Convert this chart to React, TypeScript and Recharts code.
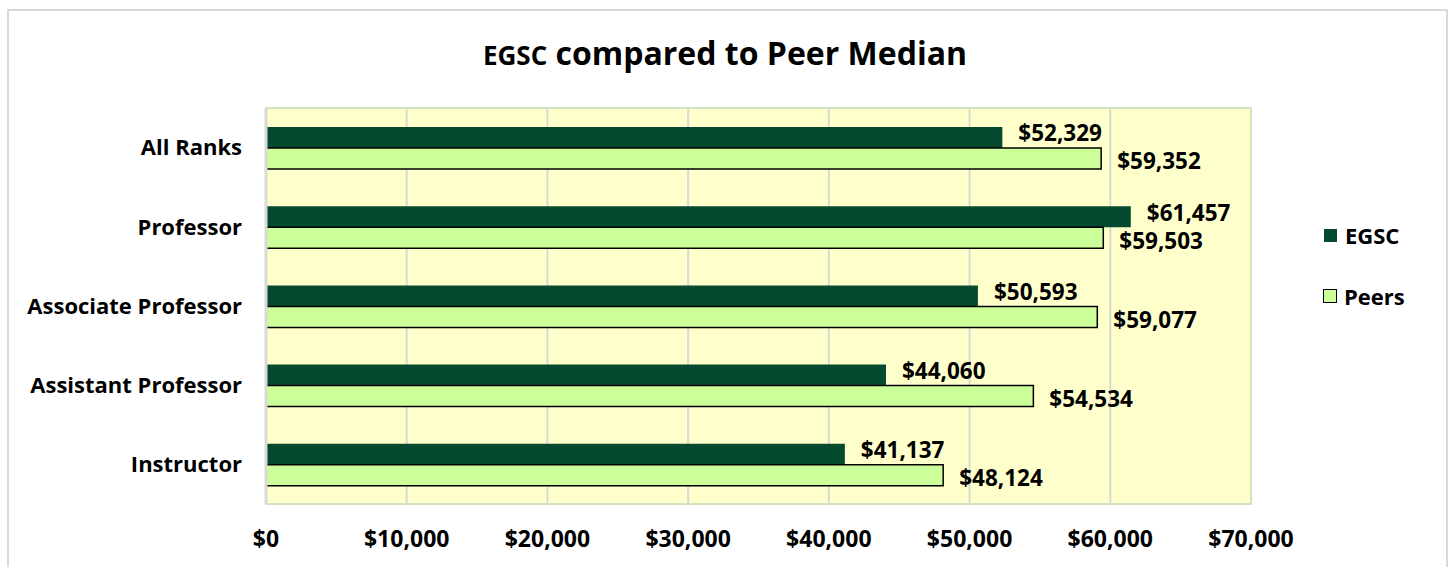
import React from "react";
import { BarChart, Bar, XAxis, YAxis, CartesianGrid, LabelList, ReferenceArea } from "recharts";

const ranks = ["All Ranks", "Professor", "Associate Professor", "Assistant Professor", "Instructor"];
const egsc = [52329, 61457, 50593, 44060, 41137];
const peers = [59352, 59503, 59077, 54534, 48124];
const xTicks = [0, 10000, 20000, 30000, 40000, 50000, 60000, 70000];

const data = ranks.map((name, i) => ({ name, egsc: egsc[i], peers: peers[i] }));

const FONT = "'Open Sans', Lato, sans-serif";
const money = (v: number) => "$" + v.toLocaleString("en-US");

export default function App() {
    return (
        <div style={{ position: "absolute", left: 0, top: 0, width: 1450, height: 567, background: "#fff", overflow: "hidden" }}>
            <div style={{ position: "absolute", left: 7, top: 9, width: 1437, height: 600, border: "2px solid #d9d9d9" }} />
            <div
                style={{
                    position: "absolute", left: 0, width: 1450, top: 33, lineHeight: "40px", textAlign: "center",
                    fontFamily: FONT, fontWeight: 700, fontSize: 32, color: "#000",
                }}
            >
                <span style={{ fontSize: 26 }}>EGSC</span> compared to Peer Median
            </div>
            <BarChart
                width={1450}
                height={567}
                data={data}
                layout="vertical"
                margin={{ top: 108, right: 199, bottom: 0, left: 0 }}
                barGap={0}
                style={{ position: "absolute", left: 0, top: 0 }}
            >
                <CartesianGrid horizontal={false} stroke="#d9d9d9" strokeWidth={2} fill="#ffffcc" />
                <ReferenceArea x1={0} x2={70000} fill="none" stroke="#d4e3bf" strokeWidth={2} ifOverflow="visible" />
                <XAxis
                    type="number"
                    domain={[0, 70000]}
                    ticks={xTicks}
                    tickFormatter={money}
                    axisLine={false}
                    tickLine={false}
                    tickMargin={21}
                    height={63}
                    tick={{ fill: "#000", fontSize: 23, fontWeight: 700, fontFamily: FONT }}
                />
                <YAxis
                    type="category"
                    dataKey="name"
                    width={266}
                    axisLine={{ stroke: "#d9d9d9", strokeWidth: 3 }}
                    tickLine={false}
                    tickMargin={18}
                    tick={{ fill: "#000", fontSize: 22, fontWeight: 700, fontFamily: FONT }}
                />
                <Bar dataKey="egsc" name="EGSC" fill="#054a2f" barSize={21} isAnimationActive={false}>
                    <LabelList
                        dataKey="egsc"
                        position="right"
                        offset={16}
                        formatter={(v: any) => money(Number(v))}
                        style={{ fill: "#000", fontSize: 22.5, fontWeight: 700, fontFamily: FONT }}
                        dy={-4}
                    />
                </Bar>
                <Bar dataKey="peers" name="Peers" fill="#ccff99" stroke="#000" strokeWidth={1.5} barSize={21} isAnimationActive={false}>
                    <LabelList
                        dataKey="peers"
                        position="right"
                        offset={16}
                        formatter={(v: any) => money(Number(v))}
                        style={{ fill: "#000", fontSize: 22.5, fontWeight: 700, fontFamily: FONT }}
                        dy={3}
                    />
                </Bar>
            </BarChart>
            <div
                style={{
                    position: "absolute", left: 1323, top: 221, fontFamily: FONT, fontWeight: 700,
                    fontSize: 22, color: "#000", lineHeight: "28px",
                }}
            >
                <div style={{ display: "flex", alignItems: "center", gap: 8, marginBottom: 33 }}>
                    <div style={{ width: 13, height: 13, background: "#054a2f", marginLeft: 1 }} />
                    <span>EGSC</span>
                </div>
                <div style={{ display: "flex", alignItems: "center", gap: 7 }}>
                    <div style={{ width: 12, height: 12, background: "#ccff99", border: "1.5px solid #000" }} />
                    <span>Peers</span>
                </div>
            </div>
        </div>
    );
}
